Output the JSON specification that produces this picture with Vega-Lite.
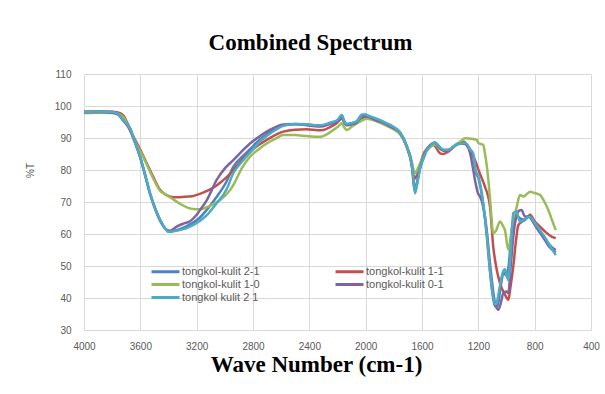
{
  "$schema": "https://vega.github.io/schema/vega-lite/v6.json",
  "width": 507,
  "height": 256,
  "autosize": "none",
  "padding": {"left": 84, "top": 74, "right": 14, "bottom": 64},
  "background": "white",
  "title": {"text": "Combined Spectrum", "font": "Liberation Serif", "fontSize": 23, "fontWeight": "bold", "color": "#000000", "anchor": "middle", "dx": -27, "offset": 14},
  "config": {"view": {"stroke": null}},
  "data": {"values": [
{"s":"A","w":4000,"v":98.2},{"s":"A","w":3900,"v":98.3},{"s":"A","w":3800,"v":98.1},{"s":"A","w":3760,"v":97.6},{"s":"A","w":3720,"v":95.5},{"s":"A","w":3673,"v":93},{"s":"A","w":3640,"v":89},{"s":"A","w":3602,"v":84.2},{"s":"A","w":3560,"v":77.5},{"s":"A","w":3531,"v":72.7},{"s":"A","w":3490,"v":67.5},{"s":"A","w":3460,"v":64.4},{"s":"A","w":3420,"v":61.5},{"s":"A","w":3401,"v":60.7},{"s":"A","w":3370,"v":60.9},{"s":"A","w":3320,"v":61.5},{"s":"A","w":3247,"v":63},{"s":"A","w":3180,"v":65},{"s":"A","w":3129,"v":67.5},{"s":"A","w":3060,"v":71.5},{"s":"A","w":2987,"v":76.5},{"s":"A","w":2940,"v":81},{"s":"A","w":2880,"v":84},{"s":"A","w":2821,"v":86.5},{"s":"A","w":2760,"v":89.2},{"s":"A","w":2703,"v":91.2},{"s":"A","w":2640,"v":92.9},{"s":"A","w":2585,"v":94},{"s":"A","w":2500,"v":94.4},{"s":"A","w":2419,"v":94.2},{"s":"A","w":2340,"v":93.9},{"s":"A","w":2301,"v":94},{"s":"A","w":2250,"v":94.7},{"s":"A","w":2200,"v":95.5},{"s":"A","w":2170,"v":97},{"s":"A","w":2150,"v":94.9},{"s":"A","w":2135,"v":94.3},{"s":"A","w":2100,"v":94.6},{"s":"A","w":2064,"v":95.1},{"s":"A","w":2028,"v":97.2},{"s":"A","w":1993,"v":97.1},{"s":"A","w":1960,"v":96.5},{"s":"A","w":1898,"v":95.5},{"s":"A","w":1850,"v":94.5},{"s":"A","w":1804,"v":93.4},{"s":"A","w":1756,"v":91.7},{"s":"A","w":1709,"v":87.5},{"s":"A","w":1674,"v":82},{"s":"A","w":1660,"v":77.5},{"s":"A","w":1650,"v":73.5},{"s":"A","w":1635,"v":76},{"s":"A","w":1614,"v":80.5},{"s":"A","w":1590,"v":83.8},{"s":"A","w":1567,"v":86.2},{"s":"A","w":1530,"v":88.1},{"s":"A","w":1508,"v":88.6},{"s":"A","w":1480,"v":87.4},{"s":"A","w":1449,"v":86.2},{"s":"A","w":1420,"v":86.2},{"s":"A","w":1401,"v":86.5},{"s":"A","w":1360,"v":87.8},{"s":"A","w":1330,"v":88.3},{"s":"A","w":1300,"v":88.4},{"s":"A","w":1283,"v":88},{"s":"A","w":1260,"v":86.3},{"s":"A","w":1236,"v":84},{"s":"A","w":1220,"v":79.5},{"s":"A","w":1200,"v":77.5},{"s":"A","w":1180,"v":73.5},{"s":"A","w":1165,"v":69},{"s":"A","w":1140,"v":59.5},{"s":"A","w":1120,"v":49.5},{"s":"A","w":1100,"v":41.5},{"s":"A","w":1082,"v":37.5},{"s":"A","w":1065,"v":37.2},{"s":"A","w":1040,"v":44},{"s":"A","w":1020,"v":48},{"s":"A","w":1000,"v":47},{"s":"A","w":985,"v":50},{"s":"A","w":965,"v":60},{"s":"A","w":950,"v":64.5},{"s":"A","w":935,"v":66},{"s":"A","w":920,"v":65.5},{"s":"A","w":900,"v":64.8},{"s":"A","w":870,"v":64.5},{"s":"A","w":845,"v":65.5},{"s":"A","w":820,"v":64.5},{"s":"A","w":780,"v":61.5},{"s":"A","w":740,"v":59},{"s":"A","w":700,"v":56.2},{"s":"A","w":650,"v":54.2},
{"s":"B","w":4000,"v":98.2},{"s":"B","w":3900,"v":98.3},{"s":"B","w":3800,"v":98.2},{"s":"B","w":3760,"v":98},{"s":"B","w":3720,"v":97},{"s":"B","w":3690,"v":94.5},{"s":"B","w":3650,"v":90.5},{"s":"B","w":3602,"v":86.5},{"s":"B","w":3555,"v":82.1},{"s":"B","w":3510,"v":78},{"s":"B","w":3460,"v":73.8},{"s":"B","w":3420,"v":72.3},{"s":"B","w":3366,"v":71.5},{"s":"B","w":3300,"v":71.6},{"s":"B","w":3224,"v":71.9},{"s":"B","w":3150,"v":73},{"s":"B","w":3082,"v":74.5},{"s":"B","w":3020,"v":76.5},{"s":"B","w":2963,"v":78.8},{"s":"B","w":2940,"v":80},{"s":"B","w":2880,"v":83},{"s":"B","w":2821,"v":85.7},{"s":"B","w":2760,"v":87.8},{"s":"B","w":2703,"v":89.4},{"s":"B","w":2640,"v":91},{"s":"B","w":2585,"v":92},{"s":"B","w":2500,"v":92.6},{"s":"B","w":2419,"v":92.7},{"s":"B","w":2340,"v":92.4},{"s":"B","w":2301,"v":92.5},{"s":"B","w":2250,"v":93.5},{"s":"B","w":2206,"v":94.6},{"s":"B","w":2170,"v":96},{"s":"B","w":2150,"v":95},{"s":"B","w":2135,"v":94},{"s":"B","w":2100,"v":94.2},{"s":"B","w":2064,"v":94.7},{"s":"B","w":2028,"v":96.2},{"s":"B","w":1993,"v":96.5},{"s":"B","w":1960,"v":95.9},{"s":"B","w":1898,"v":95},{"s":"B","w":1850,"v":94},{"s":"B","w":1804,"v":93},{"s":"B","w":1756,"v":91.4},{"s":"B","w":1709,"v":87.5},{"s":"B","w":1674,"v":82.5},{"s":"B","w":1655,"v":77.2},{"s":"B","w":1635,"v":78.5},{"s":"B","w":1614,"v":81.5},{"s":"B","w":1590,"v":85},{"s":"B","w":1567,"v":86.5},{"s":"B","w":1530,"v":88},{"s":"B","w":1508,"v":87.5},{"s":"B","w":1472,"v":85.2},{"s":"B","w":1449,"v":85},{"s":"B","w":1420,"v":85.6},{"s":"B","w":1401,"v":86.2},{"s":"B","w":1360,"v":87.8},{"s":"B","w":1330,"v":88.5},{"s":"B","w":1300,"v":88.8},{"s":"B","w":1283,"v":87.8},{"s":"B","w":1260,"v":86.5},{"s":"B","w":1224,"v":83.1},{"s":"B","w":1190,"v":79},{"s":"B","w":1153,"v":74.8},{"s":"B","w":1117,"v":68.5},{"s":"B","w":1094,"v":56},{"s":"B","w":1070,"v":49},{"s":"B","w":1046,"v":44.6},{"s":"B","w":1010,"v":41},{"s":"B","w":987,"v":39.4},{"s":"B","w":970,"v":44},{"s":"B","w":952,"v":49.8},{"s":"B","w":935,"v":57},{"s":"B","w":916,"v":62.8},{"s":"B","w":890,"v":63.8},{"s":"B","w":869,"v":64.4},{"s":"B","w":845,"v":65.5},{"s":"B","w":833,"v":66},{"s":"B","w":800,"v":64},{"s":"B","w":762,"v":62.3},{"s":"B","w":720,"v":60.5},{"s":"B","w":680,"v":59.2},{"s":"B","w":650,"v":58.7},
{"s":"C","w":4000,"v":97.8},{"s":"C","w":3900,"v":97.9},{"s":"C","w":3800,"v":97.8},{"s":"C","w":3760,"v":97.6},{"s":"C","w":3720,"v":96.5},{"s":"C","w":3690,"v":94},{"s":"C","w":3650,"v":90},{"s":"C","w":3602,"v":86},{"s":"C","w":3555,"v":81.8},{"s":"C","w":3510,"v":77.5},{"s":"C","w":3460,"v":73.5},{"s":"C","w":3420,"v":72.3},{"s":"C","w":3389,"v":71.5},{"s":"C","w":3320,"v":69.5},{"s":"C","w":3247,"v":68},{"s":"C","w":3176,"v":67.7},{"s":"C","w":3105,"v":68.8},{"s":"C","w":3034,"v":70.6},{"s":"C","w":2963,"v":73.7},{"s":"C","w":2940,"v":75.3},{"s":"C","w":2880,"v":80.5},{"s":"C","w":2821,"v":84.2},{"s":"C","w":2760,"v":86.5},{"s":"C","w":2703,"v":88.3},{"s":"C","w":2640,"v":89.8},{"s":"C","w":2585,"v":90.9},{"s":"C","w":2500,"v":90.9},{"s":"C","w":2419,"v":90.6},{"s":"C","w":2324,"v":90.4},{"s":"C","w":2270,"v":91.3},{"s":"C","w":2230,"v":92.5},{"s":"C","w":2190,"v":93.8},{"s":"C","w":2170,"v":94.6},{"s":"C","w":2150,"v":93.2},{"s":"C","w":2135,"v":92.5},{"s":"C","w":2100,"v":93.5},{"s":"C","w":2040,"v":95.1},{"s":"C","w":1993,"v":96},{"s":"C","w":1960,"v":95.8},{"s":"C","w":1898,"v":94.8},{"s":"C","w":1850,"v":93.8},{"s":"C","w":1804,"v":92.8},{"s":"C","w":1756,"v":91.2},{"s":"C","w":1709,"v":87.5},{"s":"C","w":1674,"v":82.8},{"s":"C","w":1650,"v":79},{"s":"C","w":1635,"v":80},{"s":"C","w":1614,"v":82},{"s":"C","w":1590,"v":84.5},{"s":"C","w":1567,"v":86},{"s":"C","w":1530,"v":87.5},{"s":"C","w":1508,"v":88},{"s":"C","w":1480,"v":86.8},{"s":"C","w":1449,"v":86.3},{"s":"C","w":1420,"v":86.2},{"s":"C","w":1401,"v":86.5},{"s":"C","w":1360,"v":88},{"s":"C","w":1330,"v":88.8},{"s":"C","w":1295,"v":89.9},{"s":"C","w":1250,"v":89.8},{"s":"C","w":1212,"v":89.4},{"s":"C","w":1200,"v":88.5},{"s":"C","w":1165,"v":87.8},{"s":"C","w":1153,"v":85.2},{"s":"C","w":1129,"v":77},{"s":"C","w":1115,"v":70},{"s":"C","w":1094,"v":60.2},{"s":"C","w":1075,"v":61},{"s":"C","w":1046,"v":63.9},{"s":"C","w":1025,"v":62.5},{"s":"C","w":1011,"v":61.2},{"s":"C","w":987,"v":55},{"s":"C","w":970,"v":59},{"s":"C","w":952,"v":64.4},{"s":"C","w":930,"v":68},{"s":"C","w":904,"v":72.2},{"s":"C","w":880,"v":71.7},{"s":"C","w":855,"v":72.5},{"s":"C","w":833,"v":73.2},{"s":"C","w":800,"v":72.8},{"s":"C","w":762,"v":72.2},{"s":"C","w":730,"v":70},{"s":"C","w":703,"v":67.5},{"s":"C","w":670,"v":63.5},{"s":"C","w":650,"v":61.2},
{"s":"D","w":4000,"v":98},{"s":"D","w":3900,"v":98.1},{"s":"D","w":3800,"v":97.9},{"s":"D","w":3760,"v":97.4},{"s":"D","w":3720,"v":95.3},{"s":"D","w":3673,"v":92.5},{"s":"D","w":3640,"v":88.8},{"s":"D","w":3602,"v":84},{"s":"D","w":3560,"v":77.3},{"s":"D","w":3531,"v":72.5},{"s":"D","w":3490,"v":67.2},{"s":"D","w":3460,"v":64.2},{"s":"D","w":3420,"v":61.6},{"s":"D","w":3390,"v":61},{"s":"D","w":3342,"v":62.3},{"s":"D","w":3290,"v":63.3},{"s":"D","w":3247,"v":64},{"s":"D","w":3200,"v":66},{"s":"D","w":3176,"v":67.5},{"s":"D","w":3129,"v":70.5},{"s":"D","w":3058,"v":76.9},{"s":"D","w":3000,"v":80.5},{"s":"D","w":2940,"v":83.1},{"s":"D","w":2880,"v":85.8},{"s":"D","w":2821,"v":88.3},{"s":"D","w":2760,"v":90.3},{"s":"D","w":2703,"v":92},{"s":"D","w":2640,"v":93.4},{"s":"D","w":2585,"v":94.2},{"s":"D","w":2500,"v":94.3},{"s":"D","w":2419,"v":94},{"s":"D","w":2340,"v":93.6},{"s":"D","w":2301,"v":93.7},{"s":"D","w":2250,"v":94.4},{"s":"D","w":2200,"v":95.2},{"s":"D","w":2170,"v":96.6},{"s":"D","w":2150,"v":94.6},{"s":"D","w":2135,"v":94.1},{"s":"D","w":2100,"v":94.3},{"s":"D","w":2064,"v":94.8},{"s":"D","w":2028,"v":96.7},{"s":"D","w":1993,"v":96.8},{"s":"D","w":1960,"v":96.2},{"s":"D","w":1898,"v":95.1},{"s":"D","w":1850,"v":94.2},{"s":"D","w":1804,"v":93.1},{"s":"D","w":1756,"v":91.6},{"s":"D","w":1709,"v":87.3},{"s":"D","w":1674,"v":81.8},{"s":"D","w":1650,"v":73.5},{"s":"D","w":1635,"v":76},{"s":"D","w":1614,"v":80.7},{"s":"D","w":1590,"v":84},{"s":"D","w":1567,"v":86.3},{"s":"D","w":1530,"v":88.2},{"s":"D","w":1508,"v":88.5},{"s":"D","w":1480,"v":87.2},{"s":"D","w":1449,"v":86},{"s":"D","w":1420,"v":86},{"s":"D","w":1401,"v":86.3},{"s":"D","w":1360,"v":87.8},{"s":"D","w":1330,"v":88.3},{"s":"D","w":1300,"v":88.2},{"s":"D","w":1283,"v":87.8},{"s":"D","w":1260,"v":85.5},{"s":"D","w":1236,"v":80},{"s":"D","w":1224,"v":76.9},{"s":"D","w":1200,"v":72.5},{"s":"D","w":1188,"v":71.7},{"s":"D","w":1165,"v":68.5},{"s":"D","w":1140,"v":61},{"s":"D","w":1120,"v":52},{"s":"D","w":1100,"v":44},{"s":"D","w":1082,"v":38.5},{"s":"D","w":1058,"v":36.3},{"s":"D","w":1040,"v":38.5},{"s":"D","w":1023,"v":41.5},{"s":"D","w":1000,"v":42},{"s":"D","w":987,"v":41.5},{"s":"D","w":970,"v":50},{"s":"D","w":950,"v":60},{"s":"D","w":930,"v":65.5},{"s":"D","w":910,"v":67.3},{"s":"D","w":893,"v":67.5},{"s":"D","w":870,"v":65.5},{"s":"D","w":845,"v":65.5},{"s":"D","w":833,"v":65.3},{"s":"D","w":800,"v":63},{"s":"D","w":762,"v":60.5},{"s":"D","w":720,"v":58},{"s":"D","w":680,"v":56},{"s":"D","w":650,"v":55},
{"s":"E","w":4000,"v":98.2},{"s":"E","w":3900,"v":98.3},{"s":"E","w":3800,"v":98.1},{"s":"E","w":3760,"v":97.6},{"s":"E","w":3720,"v":95.5},{"s":"E","w":3673,"v":93},{"s":"E","w":3640,"v":89},{"s":"E","w":3602,"v":84.2},{"s":"E","w":3560,"v":77.5},{"s":"E","w":3531,"v":72.7},{"s":"E","w":3490,"v":67.5},{"s":"E","w":3460,"v":64.4},{"s":"E","w":3420,"v":61.5},{"s":"E","w":3401,"v":60.7},{"s":"E","w":3370,"v":60.8},{"s":"E","w":3320,"v":61.2},{"s":"E","w":3247,"v":62.3},{"s":"E","w":3180,"v":64},{"s":"E","w":3129,"v":65.8},{"s":"E","w":3060,"v":69.5},{"s":"E","w":2987,"v":74},{"s":"E","w":2940,"v":79},{"s":"E","w":2880,"v":82.5},{"s":"E","w":2821,"v":85.5},{"s":"E","w":2760,"v":88.5},{"s":"E","w":2703,"v":90.6},{"s":"E","w":2640,"v":92.5},{"s":"E","w":2585,"v":93.8},{"s":"E","w":2500,"v":94.4},{"s":"E","w":2419,"v":94.3},{"s":"E","w":2340,"v":94},{"s":"E","w":2301,"v":94.1},{"s":"E","w":2250,"v":94.8},{"s":"E","w":2200,"v":95.6},{"s":"E","w":2170,"v":97.2},{"s":"E","w":2150,"v":95},{"s":"E","w":2135,"v":94.4},{"s":"E","w":2100,"v":94.7},{"s":"E","w":2064,"v":95.2},{"s":"E","w":2040,"v":96.5},{"s":"E","w":2028,"v":97.3},{"s":"E","w":2000,"v":97.4},{"s":"E","w":1993,"v":97.2},{"s":"E","w":1960,"v":96.6},{"s":"E","w":1898,"v":95.6},{"s":"E","w":1850,"v":94.6},{"s":"E","w":1804,"v":93.5},{"s":"E","w":1756,"v":91.8},{"s":"E","w":1709,"v":87.5},{"s":"E","w":1674,"v":82},{"s":"E","w":1660,"v":77},{"s":"E","w":1650,"v":72.7},{"s":"E","w":1635,"v":75.5},{"s":"E","w":1614,"v":80.5},{"s":"E","w":1590,"v":83.5},{"s":"E","w":1567,"v":86},{"s":"E","w":1530,"v":88},{"s":"E","w":1508,"v":88.6},{"s":"E","w":1480,"v":87.5},{"s":"E","w":1449,"v":86.3},{"s":"E","w":1420,"v":86.3},{"s":"E","w":1401,"v":86.5},{"s":"E","w":1360,"v":87.8},{"s":"E","w":1330,"v":88.3},{"s":"E","w":1300,"v":88.4},{"s":"E","w":1283,"v":88.2},{"s":"E","w":1260,"v":86.5},{"s":"E","w":1236,"v":85.2},{"s":"E","w":1220,"v":80},{"s":"E","w":1200,"v":78},{"s":"E","w":1180,"v":74},{"s":"E","w":1165,"v":69.6},{"s":"E","w":1140,"v":60},{"s":"E","w":1120,"v":50},{"s":"E","w":1100,"v":42},{"s":"E","w":1082,"v":38},{"s":"E","w":1070,"v":38.5},{"s":"E","w":1050,"v":43},{"s":"E","w":1030,"v":47.5},{"s":"E","w":1011,"v":49},{"s":"E","w":995,"v":46.5},{"s":"E","w":987,"v":45.6},{"s":"E","w":970,"v":55},{"s":"E","w":952,"v":66.5},{"s":"E","w":928,"v":67},{"s":"E","w":915,"v":65},{"s":"E","w":904,"v":63.9},{"s":"E","w":880,"v":64.2},{"s":"E","w":860,"v":64.8},{"s":"E","w":845,"v":65.3},{"s":"E","w":833,"v":65.3},{"s":"E","w":800,"v":63.5},{"s":"E","w":762,"v":61.2},{"s":"E","w":720,"v":58.5},{"s":"E","w":680,"v":55.5},{"s":"E","w":650,"v":53.4}
  ]},
  "mark": {"type": "line", "strokeWidth": 2.5, "interpolate": "monotone", "clip": true},
  "encoding": {
    "x": {"field": "w", "type": "quantitative",
      "scale": {"domain": [400, 4000], "reverse": true, "nice": false, "zero": false},
      "axis": {"values": [4000, 3600, 3200, 2800, 2400, 2000, 1600, 1200, 800, 400], "format": "d",
        "title": "Wave Number (cm-1)", "titleFont": "Liberation Serif", "titleFontSize": 23, "titleFontWeight": "bold", "titleColor": "#000000",
        "titleX": 232, "titleY": 41, "titleBaseline": "alphabetic",
        "labelFont": "Liberation Sans", "labelFontSize": 10, "labelColor": "#595959", "labelPadding": 11,
        "ticks": false, "domain": false, "grid": true, "gridColor": "#D9D9D9", "gridWidth": 1, "labelFlush": false}},
    "y": {"field": "v", "type": "quantitative",
      "scale": {"domain": [30, 110], "nice": false, "zero": false},
      "axis": {"values": [30, 40, 50, 60, 70, 80, 90, 100, 110],
        "title": "%T", "titleFont": "Liberation Sans", "titleFontSize": 10, "titleFontWeight": "normal", "titleColor": "#595959",
        "titleX": -54, "titleY": 96, "titleAngle": -90, "titleAlign": "center", "titleBaseline": "middle",
        "labelFont": "Liberation Sans", "labelFontSize": 10, "labelColor": "#595959", "labelPadding": 13,
        "ticks": false, "domain": false, "grid": true, "gridColor": "#D9D9D9", "gridWidth": 1}},
    "color": {"field": "s", "type": "nominal",
      "scale": {"domain": ["A", "B", "C", "D", "E"], "range": ["#4F81BD", "#C0504D", "#9BBB59", "#8064A2", "#4BACC6"]},
      "legend": {"title": null, "orient": "none", "direction": "horizontal", "legendX": 75, "legendY": 191, "columns": 2, "columnPadding": 69, "rowPadding": 0,
        "symbolType": "M-3,0H3", "symbolSize": 87, "symbolStrokeWidth": 3, "labelOffset": 10,
        "labelFont": "Liberation Sans", "labelFontSize": 11, "labelColor": "#595959", "labelLimit": 200,
        "labelExpr": "datum.label == 'A' ? 'tongkol-kulit 2-1' : datum.label == 'B' ? 'tongkol-kulit 1-1' : datum.label == 'C' ? 'tongkol-kulit 1-0' : datum.label == 'D' ? 'tongkol-kulit 0-1' : 'tongkol kulit 2 1'"}}
  }
}
